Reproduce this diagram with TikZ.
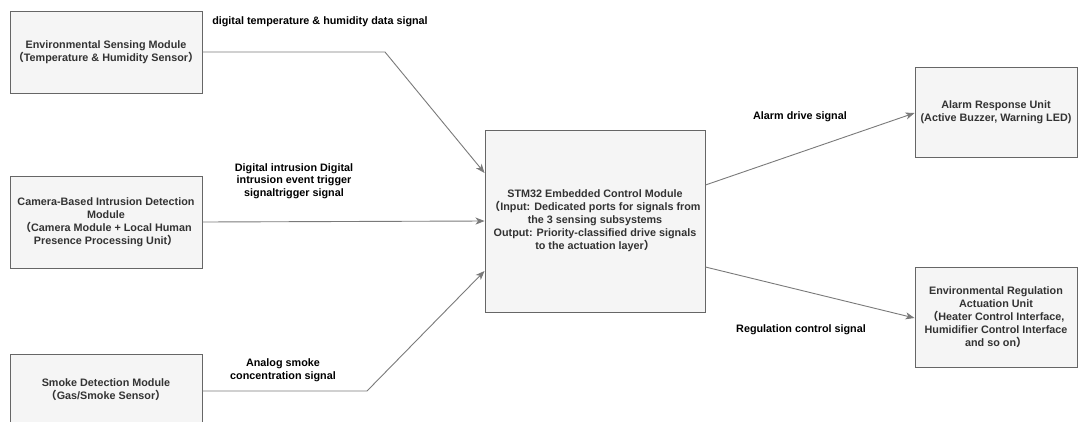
\documentclass[tikz,border=0pt]{standalone}
\usepackage{fontspec}
\setmainfont{Liberation Sans}
\newfontfamily\cjkfont{Noto Sans CJK SC}
\newcommand{\flp}{{\cjkfont （}}
\newcommand{\frp}{{\cjkfont ）}}
\usetikzlibrary{arrows.meta,calc}
\definecolor{boxfill}{HTML}{F5F5F5}
\definecolor{boxline}{HTML}{666666}
\definecolor{boxtext}{HTML}{333333}
\definecolor{wire}{HTML}{7A7A7A}
\begin{document}
\begin{tikzpicture}[x=1pt,y=-1pt,
  blockbox/.style={draw=boxline,fill=boxfill,line width=0.9pt,rectangle,inner sep=2pt,
    align=center,text=boxtext,font=\fontsize{10.8}{13}\selectfont\bfseries},
  wirelabel/.style={align=center,text=black,font=\fontsize{10.8}{12.5}\selectfont\bfseries},
  conn/.style={draw=wire,line width=0.9pt,-{Stealth[length=9pt,width=7pt,inset=2.5pt]}}]
\useasboundingbox (0,0) rectangle (1078,421);
\fill[white] (0,0) rectangle (1078,421);
% blocks
\node[blockbox,minimum width=192pt,minimum height=82pt] (env) at (106,52.5)
  {Environmental Sensing Module\\\flp Temperature \& Humidity Sensor\frp};
\node[blockbox,minimum width=192pt,minimum height=92pt] (cam) at (106,222)
  {Camera-Based Intrusion Detection\\Module\\ \flp Camera Module + Local Human\\Presence Processing Unit\frp};
\node[blockbox,minimum width=192pt,minimum height=72pt] (smoke) at (106,390)
  {Smoke Detection Module\\\flp Gas/Smoke Sensor\frp};
\node[blockbox,minimum width=220pt,minimum height=182pt] (stm) at (595,221)
  {STM32 Embedded Control Module\\ \flp Input: Dedicated ports for signals from\\the 3 sensing subsystems\\Output: Priority-classified drive signals\\to the actuation layer\frp};
\node[blockbox,minimum width=162pt,minimum height=90pt] (alarm) at (996,112)
  {Alarm Response Unit\\(Active Buzzer, Warning LED)};
\node[blockbox,minimum width=162pt,minimum height=100pt] (reg) at (996,317)
  {Environmental Regulation\\Actuation Unit\\ \flp Heater Control Interface,\\Humidifier Control Interface\\and so on\frp};
% bend points and ports
\coordinate (envout) at (env.east |- 0,52);
\coordinate (b1) at (385,52);
\coordinate (in1) at (stm.west |- 0,173);
\coordinate (smokeout) at (smoke.east |- 0,391);
\coordinate (b3) at (367,391);
\coordinate (in3) at (stm.west |- 0,271);
\coordinate (out1) at (stm.east |- 0,185);
\coordinate (out2) at (stm.east |- 0,267);
\coordinate (alarmin) at (alarm.west |- 0,113);
\coordinate (regin) at (reg.west |- 0,318);
% connectors
\draw[conn] (envout) -- (b1) -- (in1);
\draw[conn] (cam.east) -- (stm.west);
\draw[conn] (smokeout) -- (b3) -- (in3);
\draw[conn] (out1) -- (alarmin);
\draw[conn] (out2) -- (regin);
% labels
\node[wirelabel] (l1) at (320,22) {digital temperature \& humidity data signal};
\node[wirelabel] (l2) at (294,181) {Digital intrusion Digital\\intrusion event trigger\\signaltrigger signal};
\node[wirelabel] (l3) at (283,370) {Analog smoke\\concentration signal};
\node[wirelabel] (l4) at (800,117) {Alarm drive signal};
\node[wirelabel] (l5) at (801,330) {Regulation control signal};
\end{tikzpicture}
\end{document}
